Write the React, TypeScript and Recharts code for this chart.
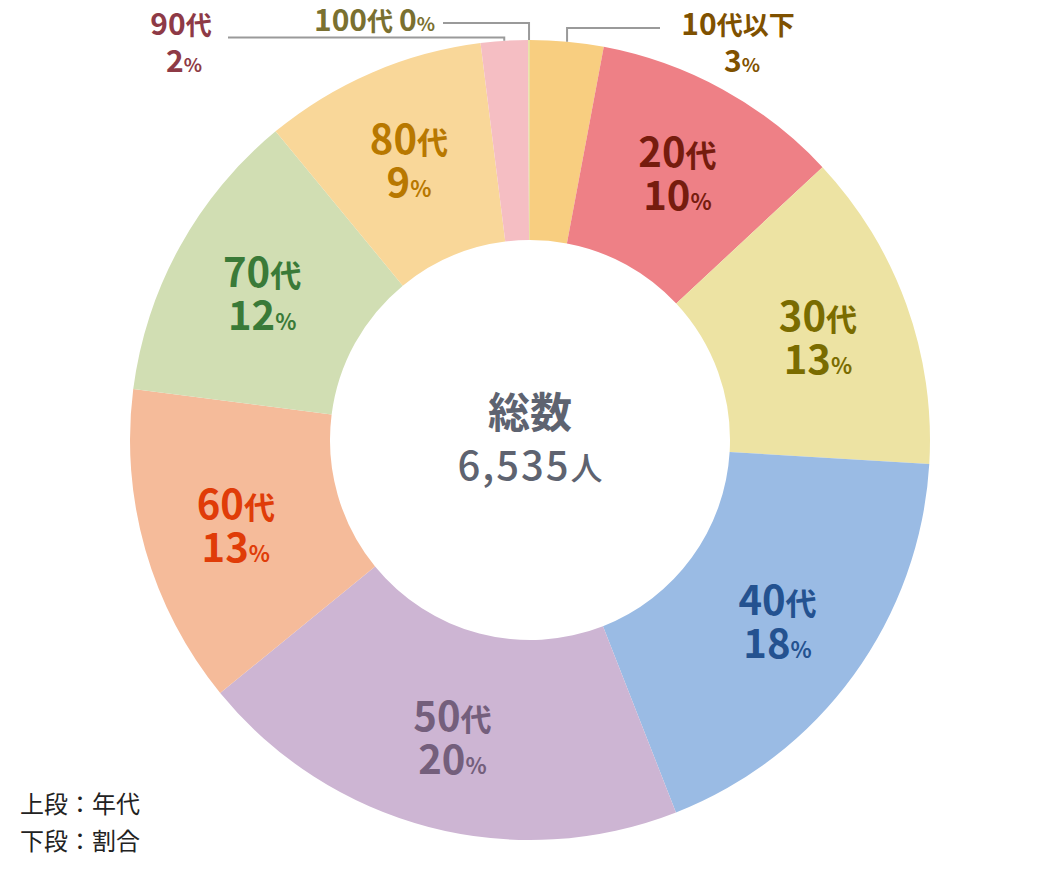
import React from 'react';
import { PieChart, Pie, Cell } from 'recharts';

// ---- data ----
const ageGroups = ['10代以下', '20代', '30代', '40代', '50代', '60代', '70代', '80代', '90代', '100代'];
const peopleCounts = [193, 660, 843, 1183, 1310, 845, 784, 588, 124, 5];
const totalLabel = '6,535';
const legendLines = ['上段：年代', '下段：割合'];

// ---- styles ----
const sliceColors = ['#F8CE80', '#EE8086', '#EDE3A3', '#9ABBE4', '#CDB5D3', '#F5BB9A', '#D1DEB3', '#F9D799', '#F5BEC3', '#E8E0A0'];
const textColors = ['#7F5100', '#761C0E', '#7A6C00', '#245290', '#745F7C', '#E03C08', '#3A7A38', '#B87800', '#8E3A46', '#7A7030'];
const outsideIdx = [0, 8, 9];

const FONT = '"Noto Sans CJK JP", "Noto Sans", sans-serif';
const W = 1044;
const H = 864;
const CX = 522;
const CY = 432;
const R_OUT = 400;
const R_IN = 200;
const LABEL_R = 306;
const RAD = Math.PI / 180;

const data = ageGroups.map((name, i) => ({ name, value: peopleCounts[i] }));

function splitName(name: string) {
  const m = name.match(/^(\d+)(.*)$/);
  return m ? [m[1], m[2]] : [name, ''];
}

const O_NUM = 30;
const O_SUF = 26;
const O_PCT = 19;

const renderLabel = (props: any) => {
  const { cx, cy, midAngle, outerRadius, index, percent } = props;
  const color = textColors[index];
  const pct = Math.round(percent * 100);
  const [num, suffix] = splitName(ageGroups[index]);
  const nodes: React.ReactNode[] = [];

  if (!outsideIdx.includes(index)) {
    const x = cx + LABEL_R * Math.cos(-midAngle * RAD);
    const y = cy + LABEL_R * Math.sin(-midAngle * RAD);
    nodes.push(
      <text key="a" x={x} y={y - 5} textAnchor="middle" fill={color} fontWeight={700} fontFamily={FONT}>
        <tspan fontSize={40}>{num}</tspan>
        <tspan fontSize={31}>{suffix}</tspan>
      </text>,
      <text key="b" x={x} y={y + 38} textAnchor="middle" fill={color} fontWeight={700} fontFamily={FONT}>
        <tspan fontSize={40}>{pct}</tspan>
        <tspan fontSize={22}>%</tspan>
      </text>
    );
  } else {
    const ax = cx + outerRadius * Math.cos(-midAngle * RAD);
    const ay = cy + outerRadius * Math.sin(-midAngle * RAD);
    const top = cy - outerRadius;
    const lineProps = { stroke: '#9A9A9A', strokeWidth: 2, fill: 'none' };
    if (index === 0) {
      const ey = top - 12;
      nodes.push(
        <polyline key="l" points={`${ax},${ay} ${ax},${ey} ${cx + 130},${ey}`} {...lineProps} />,
        <text key="a" x={cx + 208} y={top - 5} textAnchor="middle" fill={color} fontWeight={700} fontFamily={FONT}>
          <tspan fontSize={O_NUM}>{num}</tspan>
          <tspan fontSize={O_SUF}>{suffix}</tspan>
        </text>,
        <text key="b" x={cx + 212} y={top + 32} textAnchor="middle" fill={color} fontWeight={700} fontFamily={FONT}>
          <tspan fontSize={O_NUM}>{pct}</tspan>
          <tspan fontSize={O_PCT}>%</tspan>
        </text>
      );
    } else if (index === 8) {
      const ey = top - 2.5;
      nodes.push(
        <polyline key="l" points={`${ax},${ay} ${ax},${ey} ${cx - 302},${ey}`} {...lineProps} />,
        <text key="a" x={cx - 349} y={top - 5} textAnchor="middle" fill={color} fontWeight={700} fontFamily={FONT}>
          <tspan fontSize={O_NUM}>{num}</tspan>
          <tspan fontSize={O_SUF}>{suffix}</tspan>
        </text>,
        <text key="b" x={cx - 346} y={top + 32} textAnchor="middle" fill={color} fontWeight={700} fontFamily={FONT}>
          <tspan fontSize={O_NUM}>{pct}</tspan>
          <tspan fontSize={O_PCT}>%</tspan>
        </text>
      );
    } else {
      const ey = top - 17;
      nodes.push(
        <polyline key="l" points={`${ax},${ay} ${ax},${ey} ${cx - 87},${ey}`} {...lineProps} />,
        <text key="a" x={cx - 95} y={top - 9} textAnchor="end" fill={color} fontWeight={700} fontFamily={FONT}>
          <tspan fontSize={O_NUM}>{num}</tspan>
          <tspan fontSize={O_SUF}>{suffix} </tspan>
          <tspan fontSize={O_NUM}>{pct}</tspan>
          <tspan fontSize={O_PCT}>%</tspan>
        </text>
      );
    }
  }

  if (index === 0) {
    nodes.push(
      <text key="c1" x={cx} y={cy - 12} textAnchor="middle" fill="#5E6370" fontWeight={700} fontSize={42} fontFamily={FONT}>
        総数
      </text>,
      <text key="c2" x={cx} y={cy + 40} textAnchor="middle" fill="#5E6370" fontWeight={500} fontFamily={FONT}>
        <tspan fontSize={40} letterSpacing={2}>{totalLabel}</tspan>
        <tspan fontSize={32}>人</tspan>
      </text>
    );
  }
  return <g>{nodes}</g>;
};

export default function App() {
  return (
    <div style={{ position: 'relative', width: W, height: H, fontFamily: FONT }}>
      <PieChart width={W} height={H} margin={{ top: 0, right: 0, bottom: 0, left: 0 }}>
        <Pie
          data={data}
          dataKey="value"
          nameKey="name"
          cx={CX}
          cy={CY}
          innerRadius={R_IN}
          outerRadius={R_OUT}
          startAngle={90}
          endAngle={-270}
          stroke="none"
          label={renderLabel}
          labelLine={false}
          isAnimationActive={false}
        >
          {data.map((d, i) => (
            <Cell key={d.name} fill={sliceColors[i]} />
          ))}
        </Pie>
      </PieChart>
      <div style={{ position: 'absolute', left: 12, top: 776, fontSize: 24, lineHeight: '37px', color: '#222' }}>
        {legendLines.map((t) => (
          <div key={t}>{t}</div>
        ))}
      </div>
    </div>
  );
}
